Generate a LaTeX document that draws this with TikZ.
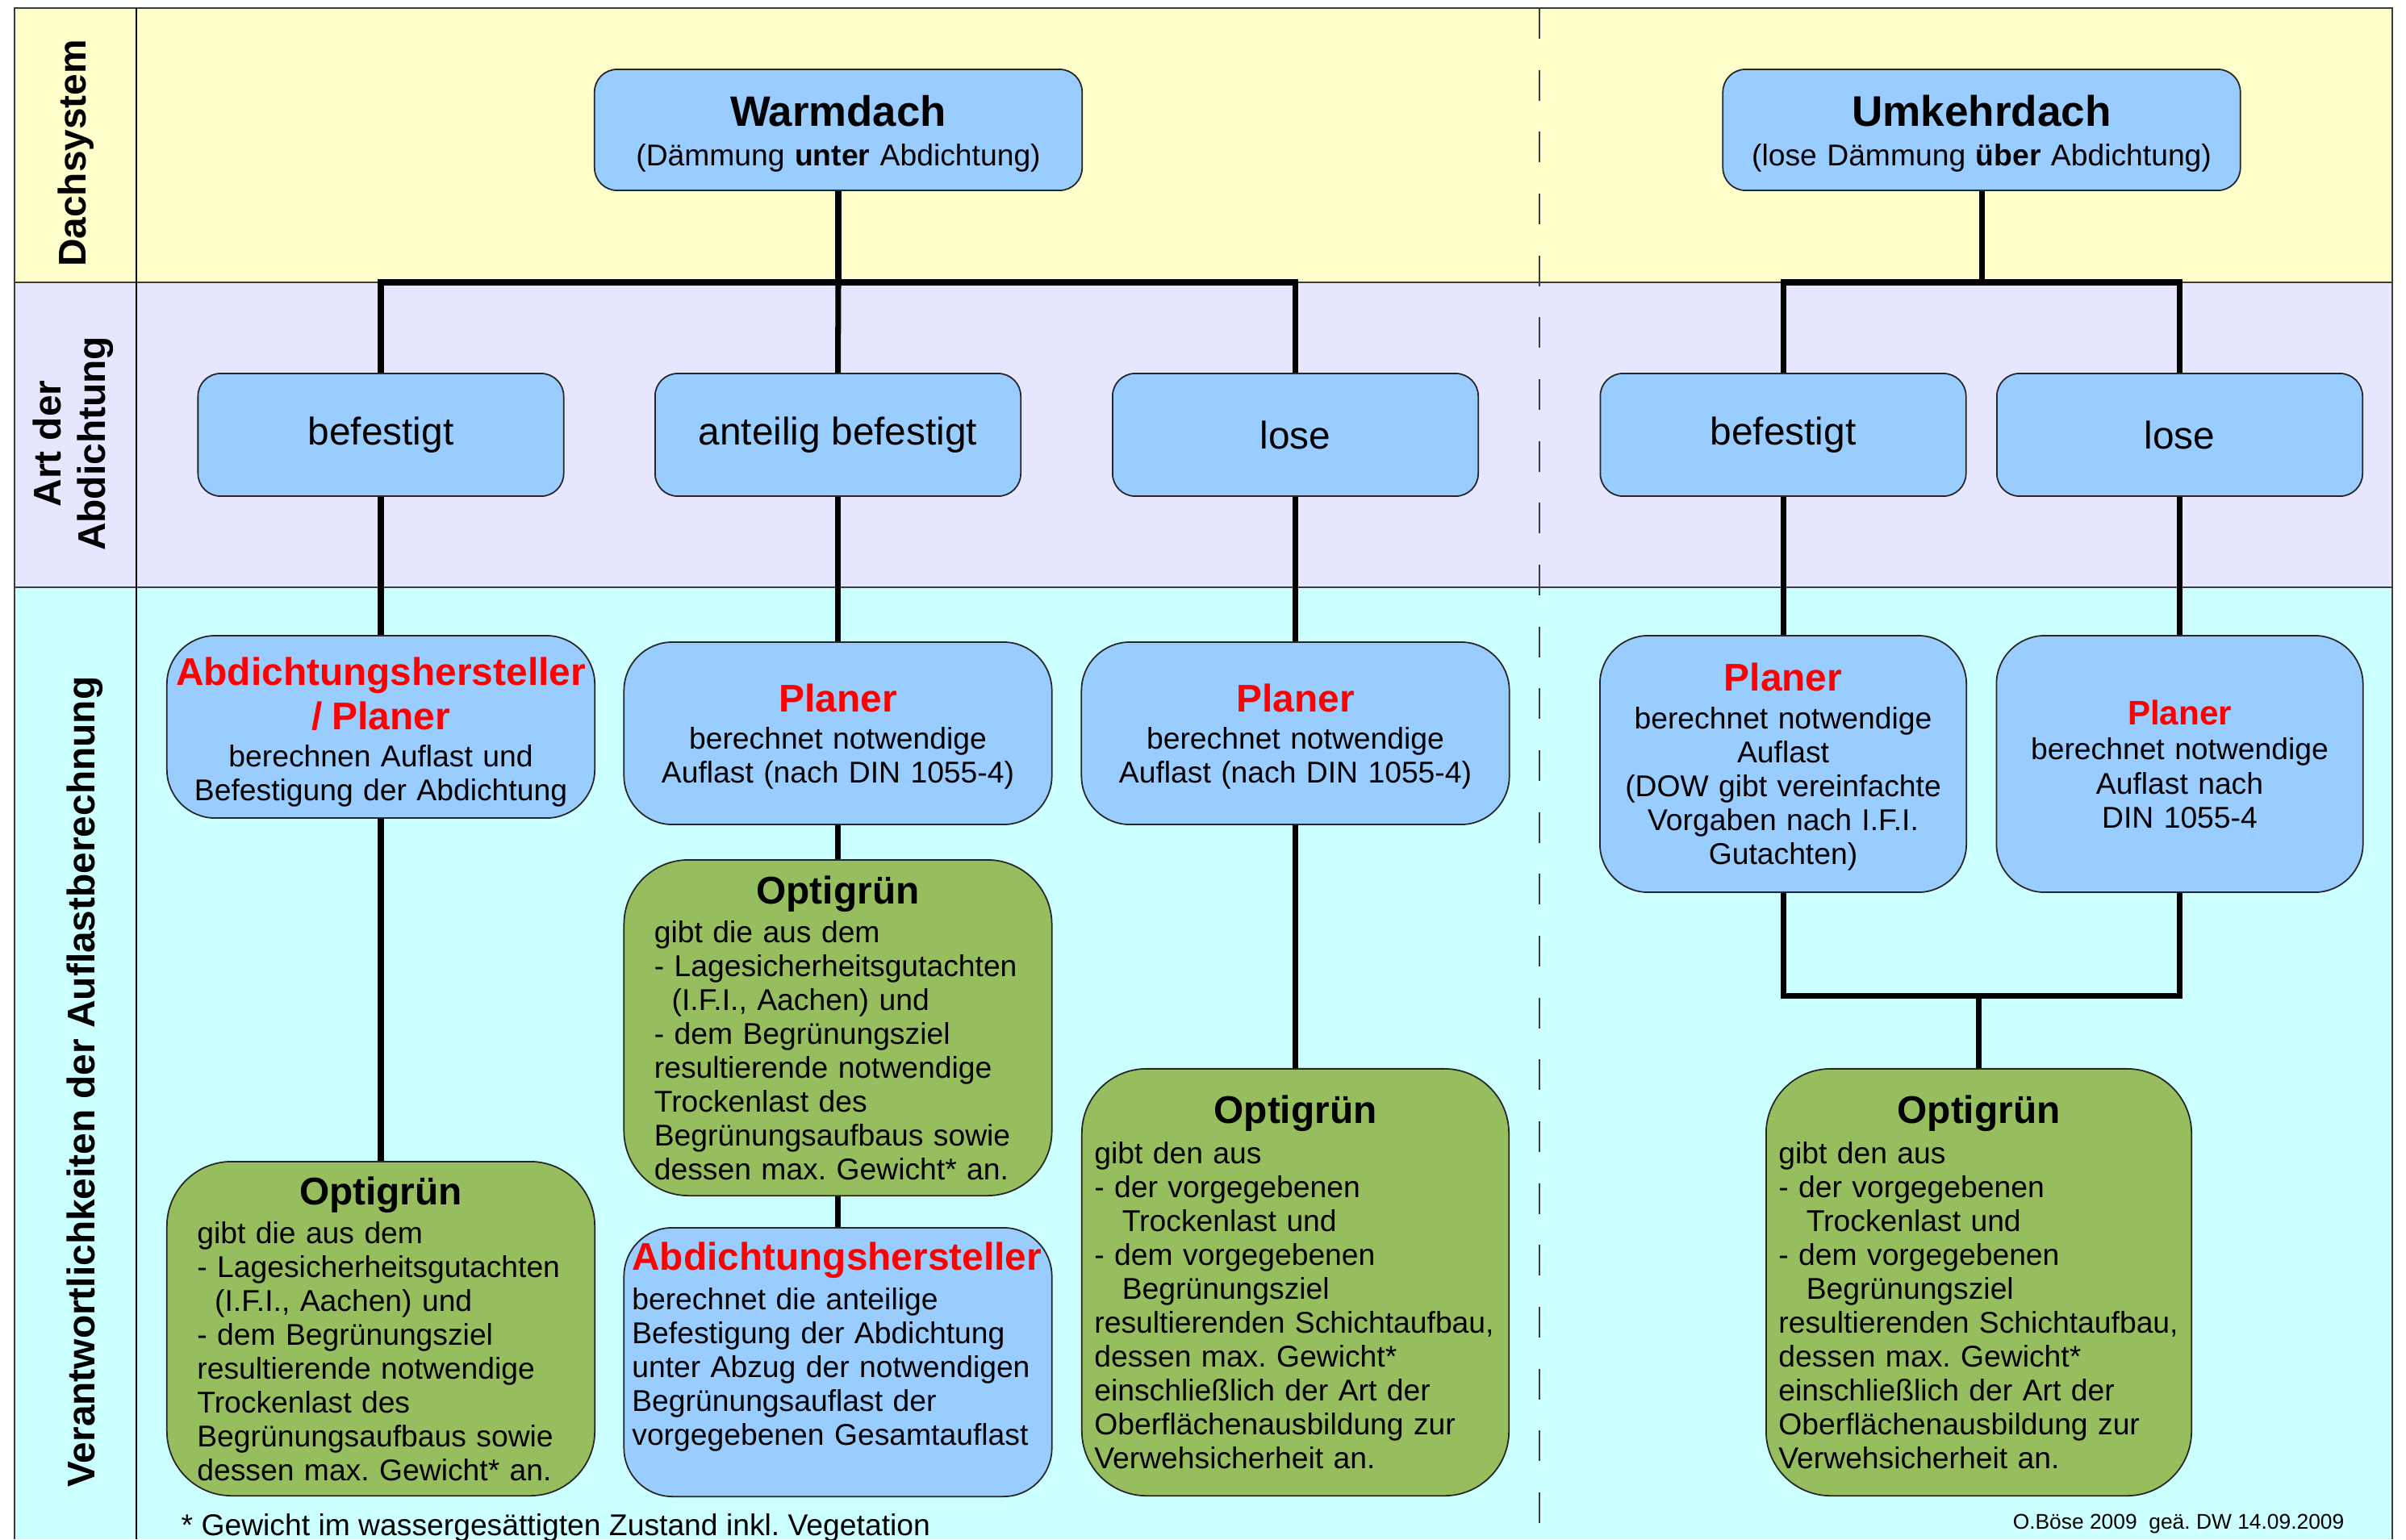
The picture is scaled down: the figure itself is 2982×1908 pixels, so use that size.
\documentclass[tikz,border=0pt]{standalone}
\usepackage{fontspec}
\setmainfont{Liberation Sans}

\definecolor{dachgelb}{HTML}{FFFFCC}
\definecolor{artlila}{HTML}{E6E6FF}
\definecolor{verantcyan}{HTML}{CCFFFF}
\definecolor{kastenblau}{HTML}{99CCFF}
\definecolor{optigruen}{HTML}{96BE5E}
\definecolor{rahmen}{HTML}{3C3C3C}

\frenchspacing

\newcommand{\rotkopf}[1]{{\fontsize{13.6}{12}\selectfont\bfseries\color{red}#1}}
\newcommand{\optikopf}{\makebox[\linewidth]{\fontsize{13.6}{12}\selectfont\bfseries Optigrün}}

\tikzset{
  kasten/.style={draw=black!85, line width=0.5pt, fill=kastenblau, inner sep=0pt,
    font=\fontsize{10.6}{11.95}\selectfont, execute at begin node={\lineskiplimit=-50pt}},
  dachbox/.style={kasten, rounded corners=0.28cm, minimum height=1.5cm, align=center},
  artbox/.style={kasten, rounded corners=0.28cm, minimum width=4.53cm, minimum height=1.52cm,
    font=\fontsize{13.6}{16}\selectfont},
  planbox/.style={kasten, rounded corners=0.6cm, align=center},
  optibox/.style={kasten, fill=optigruen, rounded corners=0.8cm, align=left, minimum width=5.3cm},
  verb/.style={line width=2pt},
  zeilenkopf/.style={rotate=90, font=\fontsize{13.6}{15.6}\selectfont\bfseries, align=center}
}

\begin{document}
\begin{tikzpicture}[x=0.01cm,y=-0.01cm]
	\useasboundingbox (0,0) rectangle (2982,1908);
	% Baender und Rahmen
	\foreach \ya/\yb/\farbe in {10/350/dachgelb,350/728/artlila,728/1908/verantcyan}
		\fill[\farbe] (18,\ya) rectangle (2965,\yb);
	\draw[rahmen,line width=0.6pt] (18,1908) -- (18,10) -- (2965,10) -- (2965,1908);
	\foreach \y in {350,728}
		\draw[rahmen,line width=0.6pt] (18,\y) -- (2965,\y);
	\draw[black,line width=0.4pt] (169,10) -- (169,1908);
	\draw[rahmen,line width=0.6pt,dash pattern=on 10.8pt off 11pt] (1908,10) -- (1908,1908);

	% Zeilenkoepfe
	\node[zeilenkopf] (lbdach) at (94,190) {Dachsystem};
	\node[zeilenkopf] (lbart) at (91,550) {Art der\\Abdichtung};
	\node[zeilenkopf] (lbverant) at (105,1341) {Verantwortlichkeiten der Auflastberechnung};

	% Dachsystem
	\node[dachbox,minimum width=6.04cm,text width=5.8cm] (warm) at (1039,161)
		{{\fontsize{15}{12}\selectfont\bfseries\rule{0pt}{13.6pt}Warmdach}\\[2pt](Dämmung \textbf{unter} Abdichtung)};
	\node[dachbox,minimum width=6.41cm,text width=6.2cm] (umk) at (2456,161)
		{{\fontsize{15.1}{12}\selectfont\bfseries\rule{0pt}{13.6pt}Umkehrdach}\\[2pt](lose Dämmung \textbf{über} Abdichtung)};

	% Art der Abdichtung
	\node[artbox] (wbef) at (472,539) {befestigt};
	\node[artbox] (want) at (1038.5,539) {anteilig befestigt};
	\node[artbox] (wlose) at (1605.5,539) {lose};
	\node[artbox] (ubef) at (2210,539) {befestigt};
	\node[artbox] (ulose) at (2701.5,539) {lose};

	% Verantwortlichkeiten
	\node[planbox,minimum width=5.3cm,minimum height=2.26cm,text width=5.2cm] (wbefpl) at (472,901)
		{\rotkopf{\rule{0pt}{13.7pt}Abdichtungshersteller\\[3.65pt]/ Planer}\\[1.3pt]berechnen Auflast und\\Befestigung der Abdichtung};
	\node[planbox,minimum width=5.3cm,minimum height=2.26cm,text width=5.2cm] (wantpl) at (1038.5,909)
		{\rotkopf{\rule{0pt}{12pt}Planer}\\[1pt]berechnet notwendige\\Auflast (nach DIN 1055-4)};
	\node[planbox,minimum width=5.3cm,minimum height=2.26cm,text width=5.2cm] (wlosepl) at (1605.5,909)
		{\rotkopf{\rule{0pt}{12pt}Planer}\\[1pt]berechnet notwendige\\Auflast (nach DIN 1055-4)};
	\node[planbox,minimum width=4.54cm,minimum height=3.18cm,text width=4.3cm] (ubefpl) at (2210,947)
		{\rotkopf{\rule{0pt}{12pt}Planer}\\[1.3pt]berechnet notwendige\\Auflast\\(DOW gibt vereinfachte\\Vorgaben nach I.F.I.\\Gutachten)};
	\node[planbox,minimum width=4.54cm,minimum height=3.18cm,text width=4.3cm] (ulosepl) at (2701.5,947)
		{{\fontsize{12}{12}\selectfont\bfseries\color{red}Planer}\\[0.5pt]berechnet notwendige\\Auflast nach\\DIN 1055-4};

	\node[optibox,minimum height=4.14cm,text width=4.55cm] (wbefopt) at (472,1647)
		{\optikopf\\[1.66pt]gibt die aus dem\\- Lagesicherheitsgutachten\\\hspace*{6.2pt}(I.F.I., Aachen) und\\- dem Begrünungsziel\\resultierende notwendige\\Trockenlast des\\Begrünungsaufbaus sowie\\dessen max. Gewicht* an.};
	\node[optibox,minimum height=4.16cm,text width=4.55cm] (wantopt) at (1038.5,1274)
		{\optikopf\\[1.66pt]gibt die aus dem\\- Lagesicherheitsgutachten\\\hspace*{6.2pt}(I.F.I., Aachen) und\\- dem Begrünungsziel\\resultierende notwendige\\Trockenlast des\\Begrünungsaufbaus sowie\\dessen max. Gewicht* an.};
	\node[planbox,align=left,minimum width=5.3cm,minimum height=3.33cm,text width=5.1cm] (wantah) at (1038.5,1688.5)
		{\rotkopf{Abdichtungshersteller}\\[2.2pt]berechnet die anteilige\\Befestigung der Abdichtung\\unter Abzug der notwendigen\\Begrünungsauflast der\\vorgegebenen Gesamtauflast\rule[-13pt]{0pt}{0pt}};
	\node[optibox,minimum width=5.29cm,minimum height=5.29cm,text width=4.98cm] (wloseopt) at (1605.5,1589.5)
		{\optikopf\\[2.2pt]gibt den aus\\- der vorgegebenen\\\hspace*{9.8pt}Trockenlast und\\- dem vorgegebenen\\\hspace*{9.8pt}Begrünungsziel\\resultierenden Schichtaufbau,\\dessen max. Gewicht*\\einschließlich der Art der\\Oberflächenausbildung zur\\Verwehsicherheit an.};
	\node[optibox,minimum width=5.27cm,minimum height=5.29cm,text width=4.96cm] (uopt) at (2452.5,1589.5)
		{\optikopf\\[2.2pt]gibt den aus\\- der vorgegebenen\\\hspace*{9.8pt}Trockenlast und\\- dem vorgegebenen\\\hspace*{9.8pt}Begrünungsziel\\resultierenden Schichtaufbau,\\dessen max. Gewicht*\\einschließlich der Art der\\Oberflächenausbildung zur\\Verwehsicherheit an.};

	% Verbindungen
	\coordinate (wbus) at (1039,350);
	\coordinate (ubus) at (2456,350);
	\coordinate (ubus2) at (2452.5,1234);
	\draw[verb] (warm.south) -- (wbus);
	\draw[verb] (wbef.north) |- (wbus) -| (wlose.north);
	\draw[verb] (wbus) -- (want.north);
	\draw[verb] (umk.south) -- (ubus);
	\draw[verb] (ubef.north) |- (ubus) -| (ulose.north);
	\draw[verb] (wbef.south) -- (wbefpl.north);
	\draw[verb] (wbefpl.south) -- (wbefopt.north);
	\draw[verb] (want.south) -- (wantpl.north);
	\draw[verb] (wantpl.south) -- (wantopt.north);
	\draw[verb] (wantopt.south) -- (wantah.north);
	\draw[verb] (wlose.south) -- (wlosepl.north);
	\draw[verb] (wlosepl.south) -- (wloseopt.north);
	\draw[verb] (ubef.south) -- (ubefpl.north);
	\draw[verb] (ulose.south) -- (ulosepl.north);
	\draw[verb] (ubefpl.south) |- (ubus2) -| (ulosepl.south);
	\draw[verb] (ubus2) -- (uopt.north);

	% Fussnote
	\node[anchor=base west,inner sep=0pt,font=\fontsize{10.6}{12}\selectfont] (fussnote) at (224,1903)
		{* Gewicht im wassergesättigten Zustand inkl. Vegetation};
	\node[anchor=base east,inner sep=0pt,font=\fontsize{7.5}{9}\selectfont] (vermerk) at (2906,1895)
		{O.Böse 2009\ \ geä. DW 14.09.2009};
\end{tikzpicture}
\end{document}
